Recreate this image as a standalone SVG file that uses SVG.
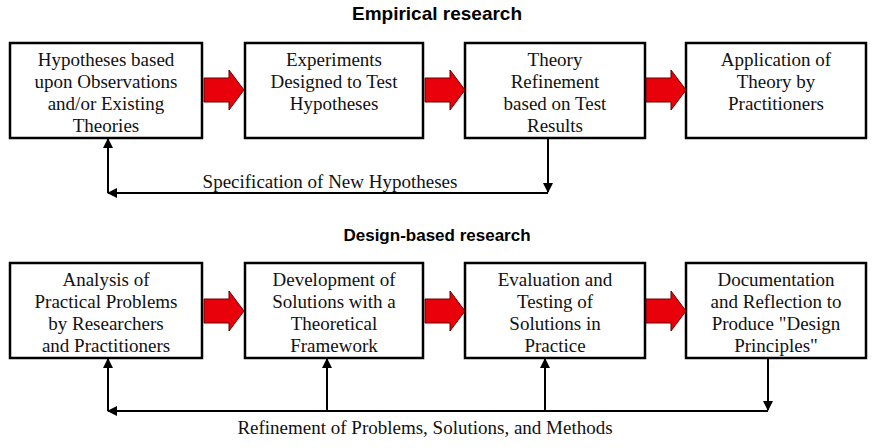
<svg xmlns="http://www.w3.org/2000/svg" width="874" height="448" viewBox="0 0 874 448">
<style>
.box{fill:#fff;stroke:#000;stroke-width:2.5}
.t{font-family:"Liberation Serif",serif;font-size:19px;text-anchor:middle;fill:#111}
.h{font-family:"Liberation Sans",sans-serif;font-weight:bold;text-anchor:middle;fill:#000}
.ln{stroke:#000;stroke-width:2;fill:none}
.ra{fill:#e8000b;stroke:#600;stroke-width:1}
</style>
<defs>
<marker id="ah" markerWidth="10" markerHeight="10" refX="9" refY="5" orient="auto" markerUnits="userSpaceOnUse"><path d="M0,0 L10,5 L0,10 Z" fill="#000"/></marker>
<path id="red" d="M0,-12 H25 V-20 L40,0 L25,20 V12 H0 Z"/>
</defs>
<rect width="874" height="448" fill="#fff"/>
<text class="h" x="437" y="20" font-size="19">Empirical research</text>
<text class="h" x="437" y="241" font-size="17">Design-based research</text>
<g id="e1"><rect class="box" x="10" y="43" width="192" height="95"/><text class="t" x="106" y="66">Hypotheses based</text><text class="t" x="106" y="88">upon Observations</text><text class="t" x="106" y="110">and/or Existing</text><text class="t" x="106" y="132">Theories</text></g>
<g id="e2"><rect class="box" x="245" y="43" width="178" height="95"/><text class="t" x="334" y="66">Experiments</text><text class="t" x="334" y="88">Designed to Test</text><text class="t" x="334" y="110">Hypotheses</text></g>
<g id="e3"><rect class="box" x="465" y="43" width="180" height="95"/><text class="t" x="555" y="66">Theory</text><text class="t" x="555" y="88">Refinement</text><text class="t" x="555" y="110">based on Test</text><text class="t" x="555" y="132">Results</text></g>
<g id="e4"><rect class="box" x="686" y="43" width="180" height="95"/><text class="t" x="776" y="66">Application of</text><text class="t" x="776" y="88">Theory by</text><text class="t" x="776" y="110">Practitioners</text></g>
<g id="d1"><rect class="box" x="10" y="263" width="192" height="95"/><text class="t" x="106" y="286">Analysis of</text><text class="t" x="106" y="308">Practical Problems</text><text class="t" x="106" y="330">by Researchers</text><text class="t" x="106" y="352">and Practitioners</text></g>
<g id="d2"><rect class="box" x="245" y="263" width="178" height="95"/><text class="t" x="334" y="286">Development of</text><text class="t" x="334" y="308">Solutions with  a</text><text class="t" x="334" y="330">Theoretical</text><text class="t" x="334" y="352">Framework</text></g>
<g id="d3"><rect class="box" x="465" y="263" width="180" height="95"/><text class="t" x="555" y="286">Evaluation and</text><text class="t" x="555" y="308">Testing of</text><text class="t" x="555" y="330">Solutions in</text><text class="t" x="555" y="352">Practice</text></g>
<g id="d4"><rect class="box" x="686" y="263" width="180" height="95"/><text class="t" x="776" y="286">Documentation</text><text class="t" x="776" y="308">and Reflection to</text><text class="t" x="776" y="330">Produce "Design</text><text class="t" x="776" y="352">Principles"</text></g>
<g id="connectors">
<use href="#red" class="ra" x="204" y="90"/><use href="#red" class="ra" x="425" y="90"/><use href="#red" class="ra" x="646" y="90"/>
<use href="#red" class="ra" x="204" y="311"/><use href="#red" class="ra" x="425" y="311"/><use href="#red" class="ra" x="646" y="311"/>
<path class="ln" d="M548,138 V192" marker-end="url(#ah)"/>
<path class="ln" d="M548,193 H108" marker-end="url(#ah)"/>
<path class="ln" d="M108,193 V139" marker-end="url(#ah)"/>
<path class="ln" d="M768,358 V410" marker-end="url(#ah)"/>
<path class="ln" d="M768,411 H108" marker-end="url(#ah)"/>
<path class="ln" d="M108,411 V359" marker-end="url(#ah)"/>
<path class="ln" d="M327,411 V359" marker-end="url(#ah)"/>
<path class="ln" d="M545,411 V359" marker-end="url(#ah)"/>
</g>
<text class="t" x="330" y="188">Specification of New Hypotheses</text>
<text class="t" x="425" y="434">Refinement of Problems, Solutions, and Methods</text>
</svg>
